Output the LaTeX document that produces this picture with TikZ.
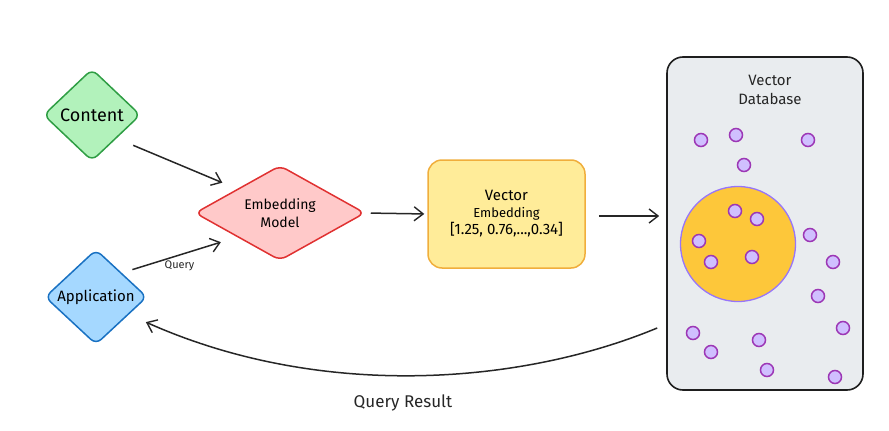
\documentclass[tikz,border=0pt]{standalone}
\usepackage{fontspec}
\setmainfont{Fira Sans}
\usetikzlibrary{shapes.geometric,arrows.meta,calc}
\definecolor{gfill}{HTML}{B2F2BB}\definecolor{gline}{HTML}{2F9E44}
\definecolor{bfill}{HTML}{A5D8FF}\definecolor{bline}{HTML}{1971C2}
\definecolor{rfill}{HTML}{FFC9C9}\definecolor{rline}{HTML}{E03131}
\definecolor{yfill}{HTML}{FFEC99}\definecolor{yline}{HTML}{F0AE3C}
\definecolor{dbfill}{HTML}{E9ECEF}\definecolor{dbline}{HTML}{1E1E1E}
\definecolor{cfill}{HTML}{FDC73A}\definecolor{cline}{HTML}{9775FA}
\definecolor{dotfill}{HTML}{D0BFFF}\definecolor{dotline}{HTML}{9C36B5}
\tikzset{
  dia/.style={diamond, inner sep=0pt, line width=1.5pt, rounded corners=7pt, align=center},
  arr/.style={line width=1.5pt, draw=black!85, -{Straight Barb[length=9pt,width=14pt,line width=1.4pt]}},
  vdot/.style={circle, inner sep=0pt, minimum size=13pt, fill=dotfill, draw=dotline, line width=1.5pt},
  lbl/.style={inner sep=1pt, text=black!85}
}
\begin{document}
\begin{tikzpicture}[x=1pt,y=-1pt]
\useasboundingbox (0,0) rectangle (889,431);
% nodes
\node[dia, fill=gfill, draw=gline, minimum width=97pt, minimum height=92pt, font=\fontsize{18}{20}\selectfont] (content) at (92,115) {Content};
\node[dia, fill=bfill, draw=bline, minimum width=102pt, minimum height=95pt, font=\fontsize{15}{17}\selectfont] (app) at (96,297) {Application};
\node[dia, fill=rfill, draw=rline, minimum width=170pt, minimum height=95pt, aspect=1.8, font=\fontsize{14}{18}\selectfont] (emb) at (280,213) {Embedding\\Model};
\node[rectangle, rounded corners=14pt, fill=yfill, draw=yline, line width=1.5pt, minimum width=157pt, minimum height=108pt, align=center, inner sep=0pt, font=\fontsize{15}{17}\selectfont] (vec) at (506.5,214) {Vector\\{\fontsize{13}{17}\selectfont Embedding}\\{}[1.25, 0.76,...,0.34]};
\node[rectangle, rounded corners=16pt, fill=dbfill, draw=dbline, line width=1.6pt, minimum width=196pt, minimum height=333pt, inner sep=0pt] (db) at (765,223.5) {};
\node[lbl, align=center, font=\fontsize{15}{19}\selectfont] (dbl) at (770,90) {Vector\\Database};
% cluster circle
\node[circle, fill=cfill, draw=cline, line width=1.3pt, minimum size=115pt, inner sep=0pt] (clu) at (738,244) {};
% dots
\foreach \x/\y [count=\i] in {701/140,736/135,808/140,744/165,735/211,757/219,699/241,711/262,752/257,810/235,833/262,818/296,843/328,693/333,711/352,759/340,767/370,835/377}
  \node[vdot] (d\i) at (\x,\y) {};
% connectors
\draw[arr, shorten <=18pt, shorten >=16pt] (content.south east) -- (emb.north west);
\draw[arr, shorten <=11pt, shorten >=17pt] (app.north east) -- node[lbl, below, pos=0.5, yshift=-4pt, font=\fontsize{11}{13}\selectfont] (ql) {Query} (emb.south west);
\draw[arr, shorten <=5pt, shorten >=3pt] (emb.east) -- (vec.west);
\draw[arr, shorten <=13pt, shorten >=7pt] ([yshift=-2pt]vec.east) -- ([yshift=-2pt]vec.east -| db.west);
\coordinate (qs) at ($(db.west)+(-9,104.5)$);
\coordinate (qe) at ($(app.south east)+(24,1)$);
\draw[arr] (qs) .. controls (520,385) and (320,400) .. (qe);
\node[lbl, font=\fontsize{17}{20}\selectfont] (qr) at (403,403) {Query Result};
\end{tikzpicture}
\end{document}
